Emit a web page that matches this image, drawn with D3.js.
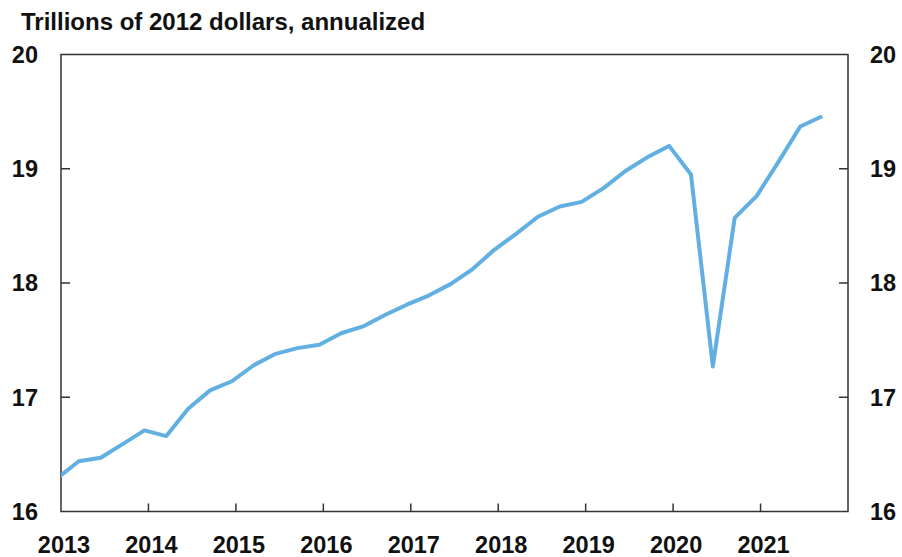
<!DOCTYPE html>
<html>
<head>
<meta charset="utf-8">
<script src="https://cdn.jsdelivr.net/npm/d3@7"></script>
<style>
  body { margin: 0; background: #fff; }
  text { font-family: "Liberation Sans", Arial, sans-serif; font-weight: bold; fill: #111; }
</style>
</head>
<body>
<div id="chart"></div>
<script>
// quarterly real GDP, 2013Q1 .. 2021Q4
var startYear = 2013;
var gdp = [16.29, 16.44, 16.47, 16.59, 16.71, 16.66, 16.90, 17.06,
           17.14, 17.28, 17.38, 17.43, 17.46, 17.56, 17.62, 17.72,
           17.81, 17.89, 17.99, 18.12, 18.29, 18.43, 18.58, 18.67,
           18.71, 18.83, 18.98, 19.10, 19.20, 18.95, 17.27, 18.57,
           18.76, 19.06, 19.37, 19.46];
var yearTicks = [2013, 2014, 2015, 2016, 2017, 2018, 2019, 2020, 2021];
var valueTicks = [16, 17, 18, 19, 20];
var title = "Trillions of 2012 dollars, annualized";

var width = 902, height = 557;
var margin = {top: 54.5, right: 54, bottom: 45.5, left: 61};
var w = width - margin.left - margin.right,
    h = height - margin.top - margin.bottom;

var svg = d3.select("#chart").append("svg")
  .attr("width", width).attr("height", height);

svg.append("text")
  .attr("x", 21).attr("y", 30)
  .style("font-size", "24px")
  .text(title);

var g = svg.append("g").attr("transform", "translate(" + margin.left + "," + margin.top + ")");

var x = d3.scaleLinear().domain([2013, 2022]).range([0, w]);
var y = d3.scaleLinear().domain([16, 20]).range([h, 0]);

// frame
g.append("rect")
  .attr("width", w).attr("height", h)
  .attr("fill", "none").attr("stroke", "#333").attr("stroke-width", 1.5);

// x ticks (inward, skip edge)
g.selectAll(".xtick").data(yearTicks.filter(function(d) { return d > 2013; }))
  .enter().append("line")
  .attr("x1", function(d) { return x(d); }).attr("x2", function(d) { return x(d); })
  .attr("y1", h).attr("y2", h - 8)
  .attr("stroke", "#333").attr("stroke-width", 1.5);

g.selectAll(".xlab").data(yearTicks)
  .enter().append("text")
  .attr("x", function(d) { return x(d) + 3; })
  .attr("y", h + 41)
  .attr("text-anchor", "middle")
  .style("font-size", "23.5px")
  .text(function(d) { return d; });

// y ticks on both sides
var inner = valueTicks.filter(function(d) { return d > 16 && d < 20; });
g.selectAll(".ytl").data(inner).enter().append("line")
  .attr("x1", 0).attr("x2", 9)
  .attr("y1", function(d) { return y(d); }).attr("y2", function(d) { return y(d); })
  .attr("stroke", "#333").attr("stroke-width", 1.5);
g.selectAll(".ytr").data(inner).enter().append("line")
  .attr("x1", w).attr("x2", w - 9)
  .attr("y1", function(d) { return y(d); }).attr("y2", function(d) { return y(d); })
  .attr("stroke", "#333").attr("stroke-width", 1.5);

g.selectAll(".ylabl").data(valueTicks).enter().append("text")
  .attr("x", -23).attr("y", function(d) { return y(d); })
  .attr("dy", "0.36em").attr("text-anchor", "end")
  .style("font-size", "23.5px")
  .text(function(d) { return d; });
g.selectAll(".ylabr").data(valueTicks).enter().append("text")
  .attr("x", w + 22).attr("y", function(d) { return y(d); })
  .attr("dy", "0.36em").attr("text-anchor", "start")
  .style("font-size", "23.5px")
  .text(function(d) { return d; });

// line (points sit a few pixels left of the quarter start in the source)
g.append("clipPath").attr("id", "clip")
  .append("rect").attr("width", w).attr("height", h);

var line = d3.line()
  .x(function(d, i) { return x(startYear + i / 4) - 4; })
  .y(function(d) { return y(d); });

g.append("path")
  .datum(gdp)
  .attr("clip-path", "url(#clip)")
  .attr("fill", "none")
  .attr("stroke", "#62afe2")
  .attr("stroke-width", 4)
  .attr("stroke-linejoin", "round")
  .attr("d", line);
</script>
</body>
</html>
